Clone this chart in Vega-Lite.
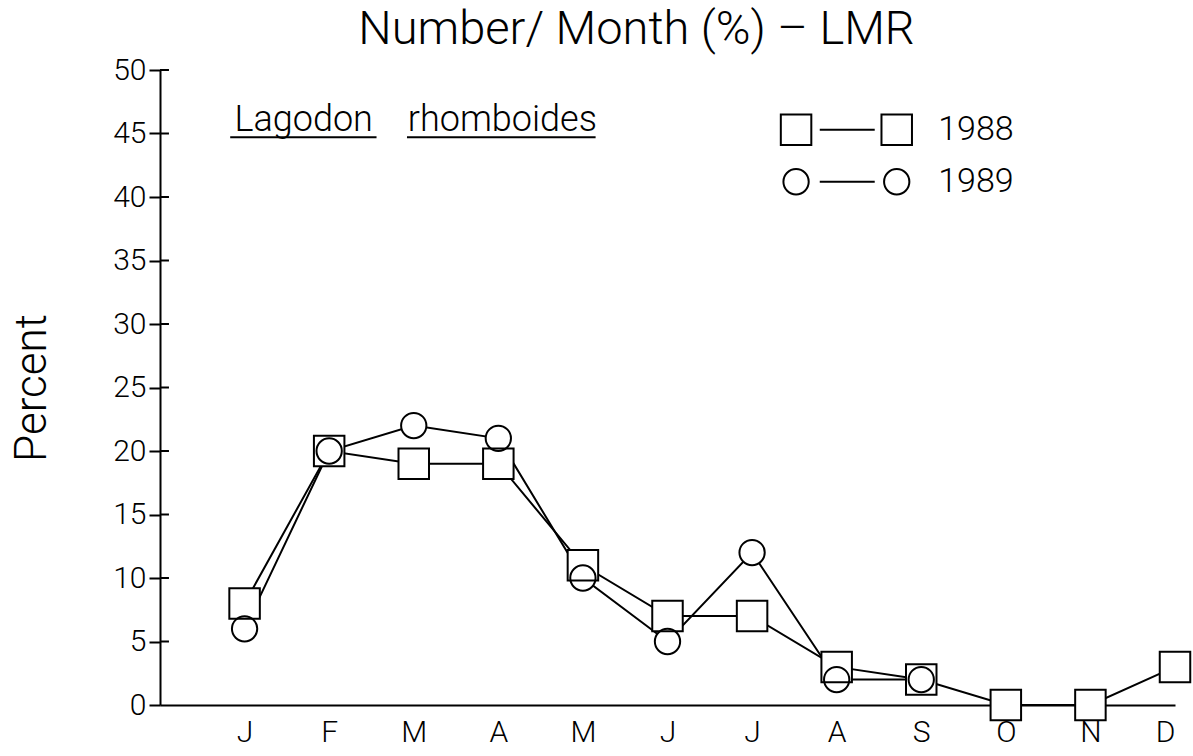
{
  "$schema": "https://vega.github.io/schema/vega-lite/v6.json",
  "width": 1015,
  "height": 635,
  "autosize": "none",
  "padding": {"left": 160, "top": 70, "right": 18, "bottom": 51},
  "background": "white",
  "config": {"view": {"stroke": null}, "font": "Roboto"},
  "title": {"text": "Number/ Month (%) – LMR", "fontSize": 47, "fontWeight": 300, "offset": 1, "dx": -31, "anchor": "middle", "color": "black", "font": "Roboto"},
  "datasets": {
    "main": [
      {"month": 1, "percent": 8, "year": "1988"},
      {"month": 2, "percent": 20, "year": "1988"},
      {"month": 3, "percent": 19, "year": "1988"},
      {"month": 4, "percent": 19, "year": "1988"},
      {"month": 5, "percent": 11, "year": "1988"},
      {"month": 6, "percent": 7, "year": "1988"},
      {"month": 7, "percent": 7, "year": "1988"},
      {"month": 8, "percent": 3, "year": "1988"},
      {"month": 9, "percent": 2, "year": "1988"},
      {"month": 10, "percent": 0, "year": "1988"},
      {"month": 11, "percent": 0, "year": "1988"},
      {"month": 12, "percent": 3, "year": "1988"},
      {"month": 1, "percent": 6, "year": "1989"},
      {"month": 2, "percent": 20, "year": "1989"},
      {"month": 3, "percent": 22, "year": "1989"},
      {"month": 4, "percent": 21, "year": "1989"},
      {"month": 5, "percent": 10, "year": "1989"},
      {"month": 6, "percent": 5, "year": "1989"},
      {"month": 7, "percent": 12, "year": "1989"},
      {"month": 8, "percent": 2, "year": "1989"},
      {"month": 9, "percent": 2, "year": "1989"}
    ],
    "legendPts": [
      {"month": 7.52, "percent": 45.3, "year": "1988"},
      {"month": 8.71, "percent": 45.3, "year": "1988"},
      {"month": 7.52, "percent": 41.2, "year": "1989"},
      {"month": 8.71, "percent": 41.2, "year": "1989"}
    ],
    "legendLines": [
      {"month": 7.8, "month2": 8.45, "percent": 45.3},
      {"month": 7.8, "month2": 8.45, "percent": 41.2}
    ],
    "legendText": [
      {"month": 9.2, "percent": 45.3, "label": "1988"},
      {"month": 9.2, "percent": 41.2, "label": "1989"}
    ],
    "annot": [
      {"month": 0.88, "percent": 46.1, "label": "Lagodon"},
      {"month": 2.93, "percent": 46.1, "label": "rhomboides"}
    ],
    "underline": [
      {"month": 0.83, "month2": 2.56, "percent": 44.7},
      {"month": 2.92, "month2": 5.15, "percent": 44.7}
    ],
    "yticks": [
      {"month": 0, "month2": 0.106, "percent": 5},
      {"month": 0, "month2": 0.106, "percent": 10},
      {"month": 0, "month2": 0.106, "percent": 15},
      {"month": 0, "month2": 0.106, "percent": 20},
      {"month": 0, "month2": 0.106, "percent": 25},
      {"month": 0, "month2": 0.106, "percent": 30},
      {"month": 0, "month2": 0.106, "percent": 35},
      {"month": 0, "month2": 0.106, "percent": 40},
      {"month": 0, "month2": 0.106, "percent": 45},
      {"month": 0, "month2": 0.106, "percent": 50}
    ]
  },
  "encoding": {
    "x": {
      "field": "month", "type": "quantitative",
      "scale": {"domain": [0, 12], "nice": false, "zero": false},
      "axis": {
        "values": [1, 2, 3, 4, 5, 6, 7, 8, 9, 10, 11, 12],
        "labelExpr": "['J','F','M','A','M','J','J','A','S','O','N','D'][datum.value-1]",
        "ticks": false, "grid": false, "title": null,
        "domainColor": "black", "domainWidth": 2,
        "labelFontSize": 30, "labelFontWeight": 300, "labelColor": "black", "labelPadding": 12, "labelFont": "Roboto"
      }
    },
    "y": {
      "field": "percent", "type": "quantitative",
      "scale": {"domain": [0, 50], "nice": false},
      "axis": {
        "values": [0, 5, 10, 15, 20, 25, 30, 35, 40, 45, 50],
        "grid": false, "title": "Percent",
        "tickSize": 11, "tickWidth": 2, "tickColor": "black",
        "domainColor": "black", "domainWidth": 2,
        "labelFontSize": 30, "labelFontWeight": 300, "labelColor": "black", "labelPadding": 3, "labelFont": "Roboto",
        "titleFontSize": 44, "titleFontWeight": 300, "titleColor": "black", "titlePadding": 58, "titleFont": "Roboto"
      }
    }
  },
  "layer": [
    {
      "data": {"name": "yticks"},
      "mark": {"type": "rule", "color": "black", "strokeWidth": 2},
      "encoding": {"x2": {"field": "month2"}}
    },
    {
      "data": {"name": "main"},
      "mark": {"type": "line", "color": "black", "strokeWidth": 2},
      "encoding": {"detail": {"field": "year"}, "order": {"field": "month"}}
    },
    {
      "data": {"name": "main"},
      "mark": {"type": "point", "filled": true, "fill": "white", "fillOpacity": 1, "strokeWidth": 0, "opacity": 1},
      "encoding": {
        "shape": {"field": "year", "scale": {"domain": ["1988", "1989"], "range": ["square", "circle"]}, "legend": null},
        "size": {"field": "year", "scale": {"domain": ["1988", "1989"], "range": [930, 640]}, "legend": null}
      }
    },
    {
      "data": {"name": "main"},
      "mark": {"type": "point", "filled": false, "color": "black", "strokeWidth": 2, "opacity": 1},
      "encoding": {
        "shape": {"field": "year", "scale": {"domain": ["1988", "1989"], "range": ["square", "circle"]}, "legend": null},
        "size": {"field": "year", "scale": {"domain": ["1988", "1989"], "range": [930, 640]}, "legend": null}
      }
    },
    {
      "data": {"name": "legendLines"},
      "mark": {"type": "rule", "color": "black", "strokeWidth": 2},
      "encoding": {"x2": {"field": "month2"}}
    },
    {
      "data": {"name": "legendPts"},
      "mark": {"type": "point", "filled": false, "color": "black", "strokeWidth": 2, "opacity": 1},
      "encoding": {
        "shape": {"field": "year", "scale": {"domain": ["1988", "1989"], "range": ["square", "circle"]}, "legend": null},
        "size": {"field": "year", "scale": {"domain": ["1988", "1989"], "range": [930, 640]}, "legend": null}
      }
    },
    {
      "data": {"name": "legendText"},
      "mark": {"type": "text", "align": "left", "baseline": "middle", "fontSize": 34, "fontWeight": 300, "color": "black", "font": "Roboto"},
      "encoding": {"text": {"field": "label"}}
    },
    {
      "data": {"name": "annot"},
      "mark": {"type": "text", "align": "left", "baseline": "middle", "fontSize": 36, "fontWeight": 300, "color": "black", "font": "Roboto"},
      "encoding": {"text": {"field": "label"}}
    },
    {
      "data": {"name": "underline"},
      "mark": {"type": "rule", "color": "black", "strokeWidth": 2},
      "encoding": {"x2": {"field": "month2"}}
    }
  ]
}
